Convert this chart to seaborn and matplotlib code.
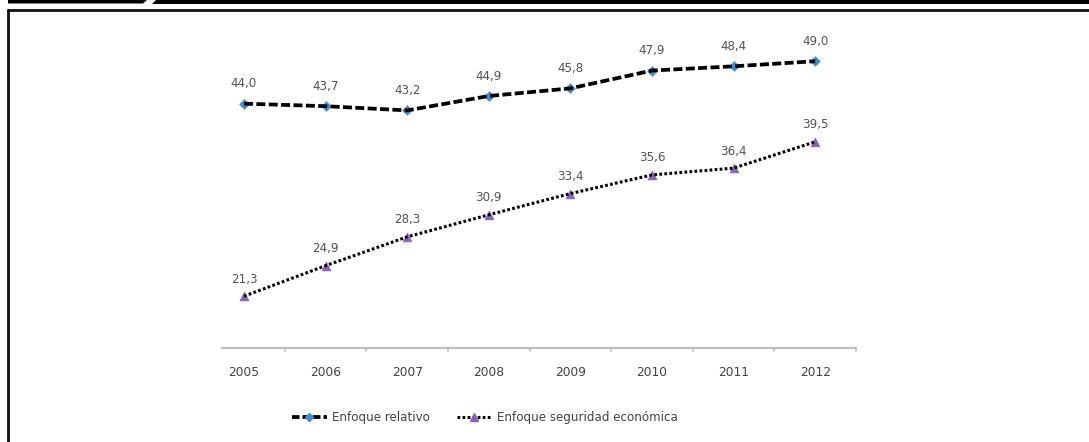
import matplotlib
matplotlib.use("Agg")
import matplotlib.pyplot as plt
import seaborn as sns
import pandas as pd
from matplotlib.patches import Polygon
from matplotlib.lines import Line2D

# Data
years = ["2005", "2006", "2007", "2008", "2009", "2010", "2011", "2012"]
relativo = [44.0, 43.7, 43.2, 44.9, 45.8, 47.9, 48.4, 49.0]
seguridad = [21.3, 24.9, 28.3, 30.9, 33.4, 35.6, 36.4, 39.5]
series_names = ["Enfoque relativo", "Enfoque seguridad económica"]

sns.set_theme(style="white")
plt.rcParams["font.family"] = ["DejaVu Sans"]

W, H = 1089, 442
fig = plt.figure(figsize=(W / 100, H / 100), dpi=100)
fig.patch.set_facecolor("white")

def fx(px):
    return px / W

def fy(py):
    return 1 - py / H

# Axes placed so that the categories span the plotting band
ax_left, ax_right = 203.2, 856.0
ax_top, ax_bottom = 40.0, 348.0
ax = fig.add_axes([fx(ax_left), fy(ax_bottom), fx(ax_right - ax_left), (ax_bottom - ax_top) / H])

df = pd.DataFrame({
    "x": list(range(len(years))) * 2,
    "valor": relativo + seguridad,
    "serie": [series_names[0]] * len(years) + [series_names[1]] * len(years),
})
d1 = df[df["serie"] == series_names[0]]
d2 = df[df["serie"] == series_names[1]]

blue = "#3d8fd6"
purple = "#8a63b8"
label_col = "#555555"

# markers drawn first, lines on top
sns.scatterplot(data=d1, x="x", y="valor", marker="D", s=24, color=blue,
                edgecolor=blue, linewidth=0.5, ax=ax, zorder=3, legend=False)
sns.scatterplot(data=d2, x="x", y="valor", marker="^", s=40, color=purple,
                edgecolor=purple, linewidth=0.5, ax=ax, zorder=3, legend=False)
sns.lineplot(data=d1, x="x", y="valor", color="black", linewidth=2.7,
             ax=ax, zorder=4, legend=False)
sns.lineplot(data=d2, x="x", y="valor", color="black", linewidth=2.2,
             ax=ax, zorder=4, legend=False)
lines = ax.get_lines()
lines[0].set_dashes((2.4, 0.9))
lines[1].set_dashes((0.9, 0.75))

# data labels
for i, v in enumerate(relativo):
    ax.annotate(f"{v:.1f}".replace(".", ","), (i, v), xytext=(0, 9.5),
                textcoords="offset points", ha="center", va="bottom",
                fontsize=8.6, color=label_col)
for i, v in enumerate(seguridad):
    ax.annotate(f"{v:.1f}".replace(".", ","), (i, v), xytext=(0, 7.5),
                textcoords="offset points", ha="center", va="bottom",
                fontsize=8.6, color=label_col)

ax.set_xlim(-0.5, 7.5)
ax.set_ylim(15.2, 51.5)
ax.set_xticks(range(len(years)))
ax.set_xticklabels(years, fontsize=8.8, color="#444444")
ax.tick_params(axis="x", length=0, pad=13)
ax.set_yticks([])
ax.set_xlabel("")
ax.set_ylabel("")
for s in ["top", "right", "left"]:
    ax.spines[s].set_visible(False)
ax.spines["bottom"].set_color("#bdbdbd")
ax.spines["bottom"].set_linewidth(1.6)
ax.spines["bottom"].set_bounds(-0.27, 7.5)
# small tick marks between categories
for b in [k + 0.5 for k in range(len(years))]:
    ax.plot([b, b], [15.2, 14.8], color="#bdbdbd", lw=1.2, clip_on=False)

# legend
h1 = Line2D([0], [0], color="black", lw=2.7, dashes=(2.0, 0.8),
            marker="D", markersize=4.5, markerfacecolor=blue, markeredgecolor=blue)
h2 = Line2D([0], [0], color="black", lw=2.2, dashes=(0.9, 0.75),
            marker="^", markersize=6, markerfacecolor=purple, markeredgecolor=purple)
fig.legend([h1, h2], series_names, loc="center", bbox_to_anchor=(fx(485), fy(418)),
           ncol=2, frameon=False, fontsize=8.6, handlelength=2.9, handletextpad=0.5,
           columnspacing=2.2, labelcolor="#444444")

# page frame
fig.add_artist(Polygon([(fx(8), fy(0)), (fx(147), fy(0)), (fx(143), fy(3.5)), (fx(8), fy(3.5))],
                       closed=True, transform=fig.transFigure, color="black", lw=0))
fig.add_artist(Polygon([(fx(156), fy(0)), (fx(1089), fy(0)), (fx(1089), fy(3.5)), (fx(152), fy(3.5))],
                       closed=True, transform=fig.transFigure, color="black", lw=0))
fig.add_artist(Line2D([fx(8), fx(1089)], [fy(10), fy(10)], transform=fig.transFigure,
                      color="#111111", lw=2.0))
fig.add_artist(Line2D([fx(8), fx(8)], [fy(10), fy(442)], transform=fig.transFigure,
                      color="#111111", lw=2.0))

fig.savefig("out.png", dpi=100, facecolor="white")
